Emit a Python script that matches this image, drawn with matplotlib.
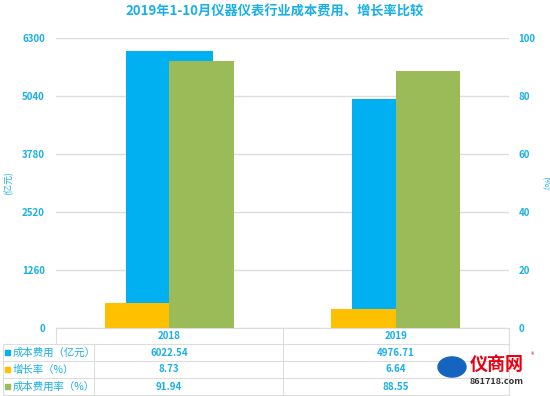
import matplotlib
matplotlib.use("Agg")
import matplotlib.pyplot as plt
from matplotlib.patches import Rectangle, Circle
from matplotlib.lines import Line2D

plt.rcParams['font.family'] = ['Noto Sans CJK SC', 'DejaVu Sans']

title = "2019年1-10月仪器仪表行业成本费用、增长率比较"
categories = ["2018", "2019"]
cost = [6022.54, 4976.71]          # 成本费用（亿元）
growth = [8.73, 6.64]              # 增长率（%）
cost_ratio = [91.94, 88.55]        # 成本费用率（%）
series_names = ["成本费用（亿元）", "增长率（%）", "成本费用率（%）"]
left_ticks = [0, 1260, 2520, 3780, 5040, 6300]
right_ticks = [0, 20, 40, 60, 80, 100]

BLUE = "#00B0F0"
ORANGE = "#FFC000"
GREEN = "#9BBB59"
TXT = "#1AAFE6"
GRID = "#DDDDDD"

W, H = 550, 396
fig = plt.figure(figsize=(5.5, 3.96), dpi=100)

def fx(px):
    return px / W

def fy(py):
    return 1 - py / H

L, R, T, B = 56, 509, 38, 328
ax = fig.add_axes([fx(L), fy(B), fx(R) - fx(L), fy(T) - fy(B)])
ax2 = ax.twinx()

x = list(range(len(categories)))
ax.bar(x, cost, width=0.385, color=BLUE, zorder=2)
ax2.bar([i - 0.1425 for i in x], growth, width=0.285, color=ORANGE, zorder=3)
ax2.bar([i + 0.1425 for i in x], cost_ratio, width=0.285, color=GREEN, zorder=3)

ax.set_xlim(-0.5, len(categories) - 0.5)
ax.set_ylim(0, 6300)
ax2.set_ylim(0, 100)
ax.set_yticks(left_ticks)
ax2.set_yticks(right_ticks)
ax.set_yticklabels([str(v) for v in left_ticks])
ax2.set_yticklabels([str(v) for v in right_ticks])
ax.set_xticks([])
ax.grid(axis='y', color=GRID, linewidth=1, zorder=0)
ax.set_axisbelow(True)
for a in (ax, ax2):
    for s in a.spines.values():
        s.set_visible(False)
    a.tick_params(axis='y', length=0, labelsize=7, labelcolor=TXT)
ax.tick_params(axis='y', pad=8)
ax2.tick_params(axis='y', pad=7)
for lab in ax.get_yticklabels() + ax2.get_yticklabels():
    lab.set_fontweight('bold')

ax.set_zorder(1)
ax2.set_zorder(2)
ax2.patch.set_visible(False)

fig.text(0.5, fy(12), title, ha='center', va='center', fontsize=9.5,
         fontweight='bold', color=TXT)
fig.text(fx(9), fy(183), "(亿元)", rotation=90, ha='center', va='center',
         fontsize=6.5, color=TXT)
fig.text(fx(545), fy(183), "(%)", rotation=-90, ha='center', va='center',
         fontsize=6.5, color=TXT)

# Data table below the chart
rows_y = [328, 344, 361, 378, 395]
col_x = [3, 94, 282.5, 509]

def hline(x0, x1, y):
    fig.add_artist(Line2D([fx(x0), fx(x1)], [fy(y), fy(y)], color=GRID, lw=0.8))

def vline(xp, y0, y1):
    fig.add_artist(Line2D([fx(xp), fx(xp)], [fy(y0), fy(y1)], color=GRID, lw=0.8))

hline(L, R, rows_y[0])
for yy in rows_y[1:]:
    hline(col_x[0], col_x[3], yy)
vline(L, rows_y[0], rows_y[1])
vline(col_x[0], rows_y[1], rows_y[4])
vline(col_x[1], rows_y[1], rows_y[4])
vline(col_x[2], rows_y[0], rows_y[4])
vline(col_x[3], rows_y[0], rows_y[4])

centers = [L + 226.5 * (i + 0.5) for i in range(len(categories))]
hy = (rows_y[0] + rows_y[1]) / 2
for c, cat in zip(centers, categories):
    fig.text(fx(c), fy(hy), cat, ha='center', va='center', fontsize=7,
             fontweight='bold', color=TXT)

table_data = [cost, growth, cost_ratio]
colors = [BLUE, ORANGE, GREEN]
for r, (name, vals, col) in enumerate(zip(series_names, table_data, colors)):
    cy = (rows_y[r + 1] + rows_y[r + 2]) / 2
    fig.add_artist(Rectangle((fx(5), fy(cy + 2.5)), fx(5), 5 / H,
                             color=col, transform=fig.transFigure))
    fig.text(fx(13), fy(cy), name, ha='left', va='center', fontsize=7.5,
             color=TXT)
    for c, v in zip(centers, vals):
        fig.text(fx(c), fy(cy), f"{v:.2f}", ha='center', va='center',
                 fontsize=7, fontweight='bold', color=TXT)

# Watermark logo
fig.add_artist(Circle((fx(452), fy(367)), 14 / W, color="#1565C0",
                      transform=fig.transFigure, zorder=5))
fig.text(fx(470), fy(364), "仪商网", ha='left', va='center', fontsize=13,
         fontweight='bold', color="#E60012", zorder=6)
fig.text(fx(531), fy(355), "®", ha='left', va='center', fontsize=5,
         color="#E60012", zorder=6)
fig.text(fx(470), fy(382), "861718.com", ha='left', va='center', fontsize=6.5,
         fontweight='bold', fontstyle='italic', color="#333333", zorder=6)

fig.savefig("out.png", dpi=100)
